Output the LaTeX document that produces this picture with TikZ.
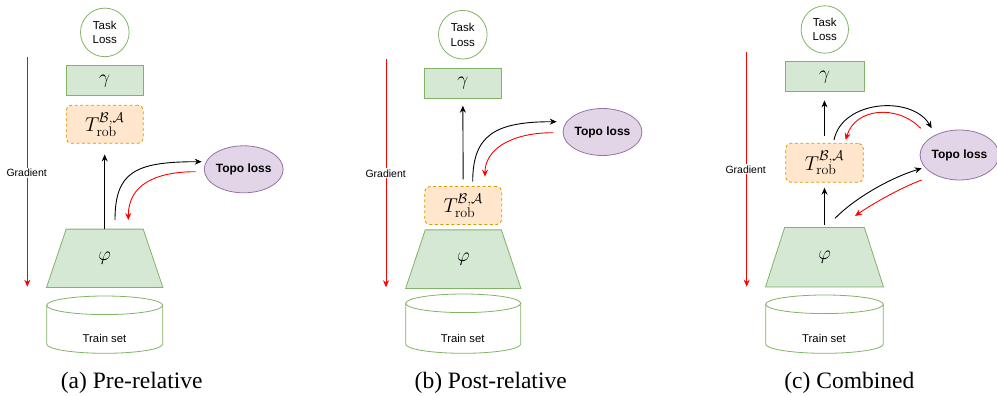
\RequirePackage{fix-cm}
\documentclass[tikz,border=0pt]{standalone}
\usepackage[no-math]{fontspec}
\setmainfont{Liberation Serif}
\setsansfont{Liberation Sans}
\usetikzlibrary{arrows.meta,shapes.geometric}
\definecolor{gfill}{HTML}{D5E8D4}
\definecolor{gdraw}{HTML}{82B366}
\definecolor{ofill}{HTML}{FFE6CC}
\definecolor{odraw}{HTML}{D79B00}
\definecolor{pfill}{HTML}{E1D5E7}
\definecolor{pdraw}{HTML}{9673A6}
\definecolor{gradred}{HTML}{FF0000}
\pgfdeclarelayer{bg}
\pgfsetlayers{bg,main}
\newcommand{\dbcyl}[4]{% center x, top y, bottom y, half width
  \draw[gdraw,fill=white,line width=0.8pt] (#1-#4,#2+9.3) -- (#1-#4,#3-9.3)
    arc[start angle=180,end angle=0,x radius=#4,y radius=9.3] -- (#1+#4,#2+9.3) -- cycle;
  \draw[gdraw,fill=white,line width=0.8pt] (#1,#2+9.3) ellipse[x radius=#4,y radius=9.3];}
\newcommand{\trap}[2]{% node name, slant offset
  \begin{pgfonlayer}{bg}
  \draw[draw=gdraw,fill=gfill,line width=0.8pt] (#1.north west) -- (#1.north east)
    -- ([xshift=#2]#1.south east) -- ([xshift=-#2]#1.south west) -- cycle;
  \end{pgfonlayer}}
\newcommand{\trob}{$T^{\mathcal{B},\mathcal{A}}_{\mathrm{rob}}$}
\begin{document}
\begin{tikzpicture}[x=1pt,y=-1pt,
  taskloss/.style={circle,draw=gdraw,fill=white,line width=0.8pt,minimum size=48.6pt,inner sep=0pt,align=center,font=\sffamily\fontsize{11.5}{14.5}\selectfont},
  gbox/.style={rectangle,draw=gdraw,fill=gfill,line width=0.8pt,minimum width=77pt,minimum height=30pt,inner sep=0pt,font=\fontsize{19.5}{22}\selectfont},
  tbox/.style={rectangle,rounded corners=5pt,draw=odraw,fill=ofill,line width=0.8pt,dash pattern=on 3pt off 2.5pt,minimum width=77pt,minimum height=38pt,inner sep=0pt,font=\fontsize{20}{22}\selectfont},
  phibox/.style={rectangle,minimum width=76.6pt,minimum height=58pt,inner sep=0pt,font=\fontsize{19.5}{22}\selectfont},
  topo/.style={ellipse,draw=pdraw,fill=pfill,line width=0.8pt,minimum width=78pt,minimum height=47pt,inner sep=0pt,font=\sffamily\bfseries\fontsize{12}{14}\selectfont},
  trainlbl/.style={font=\sffamily\fontsize{11.3}{13}\selectfont,inner sep=0pt},
  gradlbl/.style={font=\sffamily\fontsize{10.5}{12}\selectfont,fill=white,inner sep=1pt},
  caption/.style={font=\fontsize{23.5}{26}\selectfont,inner sep=0pt},
  arr/.style={-{Stealth[length=7pt,width=6pt]},line width=0.9pt,black},
  rarr/.style={-{Stealth[length=7pt,width=6pt]},line width=0.9pt,gradred},
  gradarr/.style={-{Stealth[length=7pt,width=6pt]},line width=0.8pt,gradred}]
\useasboundingbox (0,0) rectangle (997,396);

% ---------------- (a) Pre-relative ----------------
\coordinate (ga1) at (27.3,56.7);
\coordinate (ga2) at (27.3,286.7);
\draw[gradarr] (ga1) -- (ga2);
\node[gradlbl] (gla) at (26.7,172.7) {Gradient};
\node[taskloss] (tla) at (104.8,32.4) {Task\\Loss};
\node[gbox] (ga) at (104.7,80.8) {$\gamma$};
\node[tbox] (ta) at (104.7,124.3) {\trob};
\node[phibox] (pa) at (104.7,258.3) {$\varphi$};
\trap{pa}{19.7pt}
\dbcyl{104.7}{296}{353.3}{58}
\node[trainlbl] (tsa) at (104.5,338.3) {Train set};
\node[topo] (toa) at (243.7,169.3) {Topo loss};
\draw[arr,shorten >=10.7pt] (pa.north) -- (ta.south);
\coordinate (a1s) at (115,220);
\coordinate (a1e) at (201.7,161.7);
\draw[arr] (a1s) .. controls (115,172) and (135,161.7) .. (a1e);
\coordinate (a2s) at (195.7,171.7);
\coordinate (a2e) at (128.3,220);
\draw[rarr] (a2s) .. controls (155,171.7) and (128.3,185) .. (a2e);
\node[caption] (capa) at (131.7,383.3) {(a) Pre-relative};

% ---------------- (b) Post-relative ----------------
\coordinate (gb1) at (386,59.3);
\coordinate (gb2) at (386,287.3);
\draw[gradarr] (gb1) -- (gb2);
\node[gradlbl] (glb) at (385.7,173.3) {Gradient};
\node[taskloss] (tlb) at (462.8,34.7) {Task\\Loss};
\node[gbox] (gb) at (462.8,83) {$\gamma$};
\node[tbox] (tb) at (463.2,205.5) {\trob};
\node[phibox,minimum width=75.7pt,minimum height=58.3pt] (pb) at (463.3,259.2) {$\varphi$};
\trap{pb}{19.65pt}
\dbcyl{463.2}{294}{353.3}{57.5}
\node[trainlbl] (tsb) at (462.7,338.3) {Train set};
\node[topo] (tob) at (602.5,132) {Topo loss};
\draw[arr,shorten <=6.7pt,shorten >=7.3pt] (tb.north) -- (gb.south);
\coordinate (b1s) at (472.7,181.7);
\coordinate (b1e) at (556.7,121.7);
\draw[arr] (b1s) .. controls (472.7,135) and (495,121.7) .. (b1e);
\coordinate (b2s) at (553.3,132.7);
\coordinate (b2e) at (485,176.7);
\draw[rarr] (b2s) .. controls (510,132.7) and (485,150) .. (b2e);
\node[caption] (capb) at (490.7,383.3) {(b) Post-relative};

% ---------------- (c) Combined ----------------
\coordinate (gc1) at (746.7,52.3);
\coordinate (gc2) at (746.7,286.7);
\draw[gradarr] (gc1) -- (gc2);
\node[gradlbl] (glc) at (745.7,169.3) {Gradient};
\node[taskloss,minimum size=47.4pt] (tlc) at (824.8,29.5) {Task\\Loss};
\node[gbox,minimum width=79pt] (gc) at (824.5,76.7) {$\gamma$};
\node[tbox,minimum width=77.6pt,minimum height=39pt] (tc) at (824.5,162.8) {\trob};
\node[phibox,minimum width=79.3pt,minimum height=59pt] (pc) at (824.5,257.2) {$\varphi$};
\trap{pc}{19.15pt}
\dbcyl{824.5}{295}{353.3}{58.8}
\node[trainlbl] (tsc) at (824,338.3) {Train set};
\node[topo,minimum width=76pt,minimum height=50pt] (toc) at (959.5,155) {Topo loss};
\draw[arr,shorten <=7.3pt,shorten >=8.3pt] (tc.north) -- (gc.south);
\draw[arr,shorten <=2.7pt,shorten >=5pt] (pc.north) -- (tc.south);
\coordinate (c1s) at (834,140);
\coordinate (c1e) at (931.7,128.3);
\draw[arr] (c1s) .. controls (842,100) and (912,95) .. (c1e);
\coordinate (c2s) at (920.7,128.3);
\coordinate (c2e) at (845.7,140);
\draw[rarr] (c2s) .. controls (897,104) and (855,108) .. (c2e);
\coordinate (c3s) at (835,218.3);
\coordinate (c3e) at (921.7,168.3);
\draw[arr] (c3s) .. controls (855,198) and (890,178) .. (c3e);
\coordinate (c4s) at (921.7,180);
\coordinate (c4e) at (855,216);
\draw[rarr] (c4s) .. controls (905,186) and (875,202) .. (c4e);
\node[caption] (capc) at (849.3,383.3) {(c) Combined};
\end{tikzpicture}
\end{document}
